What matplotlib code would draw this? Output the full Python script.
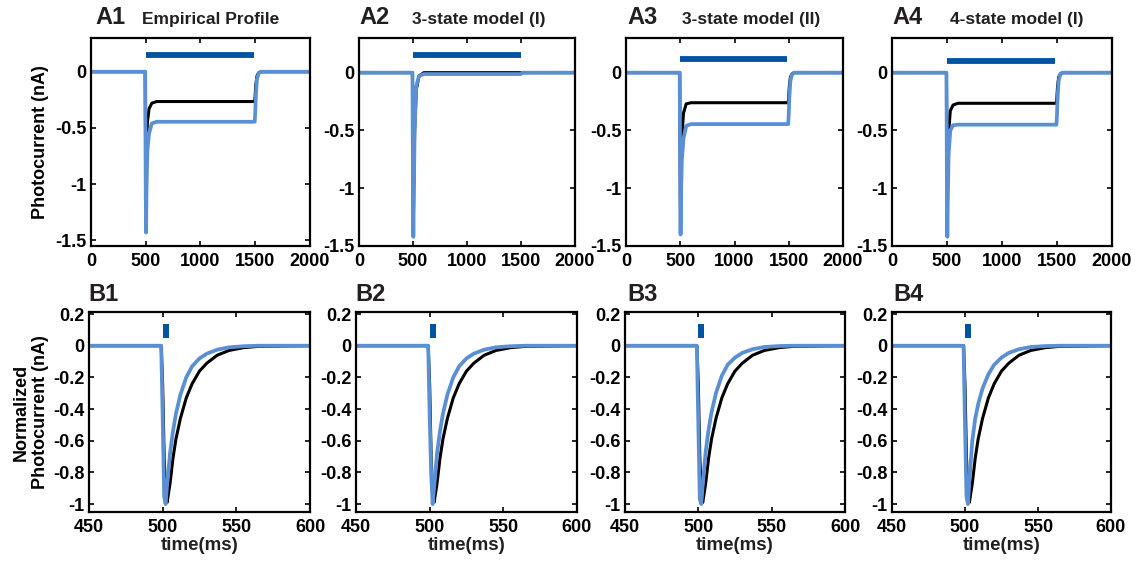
import matplotlib
matplotlib.use("Agg")
import matplotlib.pyplot as plt

plt.rcParams['font.family'] = ['Liberation Sans', 'DejaVu Sans']
plt.rcParams['font.weight'] = 'bold'

# ---- data ----
panel_ids_a = ["A1", "A2", "A3", "A4"]
panel_ids_b = ["B1", "B2", "B3", "B4"]
model_names = ["Empirical Profile", "3-state model (I)", "3-state model (II)", "4-state model (I)"]

# top row: full 1 s light pulse (time in ms)
t_a = [0, 495, 500, 503, 507, 515, 530, 555, 600, 1495, 1500, 1505, 1515, 1530, 1550, 2000]
black_a1 = [0, 0, -0.9, -1.35, -0.75, -0.45, -0.33, -0.28, -0.265, -0.265, -0.2, -0.12, -0.04, -0.01, 0, 0]
blue_a1 = [0, 0, -1.1, -1.43, -1.05, -0.7, -0.55, -0.46, -0.445, -0.445, -0.36, -0.22, -0.07, -0.015, 0, 0]
black_a2 = [0, 0, -0.9, -1.35, -1.0, -0.5, -0.15, -0.03, 0, 0, 0, 0, 0, 0, 0, 0]
blue_a2 = [0, 0, -1.1, -1.42, -1.1, -0.5, -0.12, -0.03, -0.012, -0.012, -0.01, -0.005, 0, 0, 0, 0]
black_a3 = [0, 0, -0.9, -1.35, -0.9, -0.55, -0.35, -0.27, -0.26, -0.26, -0.2, -0.12, -0.04, -0.01, 0, 0]
blue_a3 = [0, 0, -1.1, -1.40, -1.05, -0.75, -0.57, -0.46, -0.445, -0.445, -0.36, -0.22, -0.07, -0.015, 0, 0]
black_a4 = [0, 0, -0.9, -1.35, -0.8, -0.52, -0.33, -0.28, -0.265, -0.265, -0.2, -0.12, -0.04, -0.01, 0, 0]
blue_a4 = [0, 0, -1.1, -1.42, -1.1, -0.7, -0.5, -0.455, -0.45, -0.45, -0.36, -0.22, -0.07, -0.015, 0, 0]
black_a = [black_a1, black_a2, black_a3, black_a4]
blue_a = [blue_a1, blue_a2, blue_a3, blue_a4]
stim_a_start = [505, 500, 500, 500]
stim_a_end = [1490, 1500, 1485, 1480]
stim_a_level = [0.15, 0.15, 0.12, 0.10]
ylim_a_bottom = [-1.55, -1.5, -1.5, -1.5]

# bottom row: short pulse, normalized
t_b = [450, 499, 500, 501, 502, 503, 505, 507, 509, 512, 516, 520, 525, 530, 537, 545, 555, 565, 600]
black_b = [0, 0, -0.25, -0.7, -0.93, -0.99, -0.87, -0.71, -0.59, -0.46, -0.33, -0.24, -0.16, -0.11, -0.06, -0.03, -0.012, -0.004, 0]
blue_b1 = [0, 0, -0.45, -0.95, -1.0, -0.88, -0.68, -0.54, -0.43, -0.31, -0.20, -0.13, -0.08, -0.05, -0.025, -0.01, -0.003, 0, 0]
blue_b2 = [0, 0, -0.45, -0.8, -1.0, -0.9, -0.68, -0.54, -0.43, -0.31, -0.20, -0.13, -0.08, -0.05, -0.025, -0.01, -0.003, 0, 0]
blue_b3 = [0, 0, -0.5, -0.97, -1.0, -0.88, -0.67, -0.53, -0.42, -0.30, -0.19, -0.12, -0.075, -0.045, -0.022, -0.008, -0.002, 0, 0]
blue_b4 = [0, 0, -0.5, -0.95, -1.0, -0.85, -0.6, -0.46, -0.37, -0.27, -0.18, -0.12, -0.075, -0.045, -0.022, -0.008, -0.002, 0, 0]
blue_b = [blue_b1, blue_b2, blue_b3, blue_b4]
stim_b_start = 500
stim_b_end = 504
stim_b_low = 0.05
stim_b_high = 0.14

xticks_a = [0, 500, 1000, 1500, 2000]
yticks_a = [0, -0.5, -1, -1.5]
yticklabels_a = ["0", "-0.5", "-1", "-1.5"]
xticks_b = [450, 500, 550, 600]
yticks_b = [0.2, 0, -0.2, -0.4, -0.6, -0.8, -1]
yticklabels_b = ["0.2", "0", "-0.2", "-0.4", "-0.6", "-0.8", "-1"]

BLUE = "#5b8fd3"
STIM = "#0052a3"
TXT = "#231f20"

W, H = 1139, 562
fig = plt.figure(figsize=(W / 100, H / 100), dpi=100)

def px_axes(left, top, right, bottom):
    return fig.add_axes([left / W, 1 - bottom / H, (right - left) / W, (bottom - top) / H])

def style(ax):
    for s in ax.spines.values():
        s.set_linewidth(1.6)
    ax.tick_params(direction="in", top=True, right=True, length=3.5, width=1.2,
                   labelsize=13, pad=3)
    ax.tick_params(axis="x", pad=5)

lefts_a = [91, 359, 626, 892]
rights_a = [310, 575, 843, 1112]
lefts_b = [89, 356, 625, 892]
rights_b = [310, 577, 845, 1111]

for i in range(4):
    ax = px_axes(lefts_a[i], 38, rights_a[i], 246)
    ax.plot(t_a, black_a[i], color="black", lw=2.2)
    ax.plot(t_a, blue_a[i], color=BLUE, lw=2.7)
    ax.plot([stim_a_start[i], stim_a_end[i]], [stim_a_level[i]] * 2, color=STIM, lw=4.2, solid_capstyle="butt")
    ax.set_xlim(0, 2000)
    ax.set_ylim(ylim_a_bottom[i], 0.3)
    ax.set_xticks(xticks_a)
    ax.set_xticklabels([str(v) for v in xticks_a])
    ax.set_yticks(yticks_a)
    ax.set_yticklabels(yticklabels_a)
    style(ax)
    if i == 0:
        ax.set_ylabel("Photocurrent (nA)", fontsize=13, fontweight="bold", labelpad=5)

    ax = px_axes(lefts_b[i], 312, rights_b[i], 512)
    ax.plot(t_b, black_b, color="black", lw=2.2)
    ax.plot(t_b, blue_b[i], color=BLUE, lw=2.7)
    ax.bar((stim_b_start + stim_b_end) / 2, stim_b_high - stim_b_low, bottom=stim_b_low,
           width=stim_b_end - stim_b_start, color=STIM)
    ax.set_xlim(450, 600)
    ax.set_ylim(-1.05, 0.213)
    ax.set_xticks(xticks_b)
    ax.set_xticklabels([str(v) for v in xticks_b])
    ax.set_yticks(yticks_b)
    ax.set_yticklabels(yticklabels_b)
    style(ax)
    ax.set_xlabel("time(ms)", fontsize=13.5, fontweight="bold", labelpad=1, color=TXT)
    if i == 0:
        ax.set_ylabel("Normalized\nPhotocurrent (nA)", fontsize=13, fontweight="bold",
                      labelpad=3, linespacing=1.2)

# panel letters and titles
letter_x_a = [95, 359, 627, 892]
title_x_a = [142, 412, 682, 950]
letter_x_b = [88, 355, 627, 893]
for i in range(4):
    fig.text(letter_x_a[i] / W, 1 - 24 / H, panel_ids_a[i], fontsize=17, fontweight="bold",
             color=TXT, va="baseline", ha="left")
    fig.text(title_x_a[i] / W, 1 - 24 / H, model_names[i], fontsize=12.5, fontweight="bold",
             color=TXT, va="baseline", ha="left")
    fig.text(letter_x_b[i] / W, 1 - 301 / H, panel_ids_b[i], fontsize=17, fontweight="bold",
             color=TXT, va="baseline", ha="left")

fig.savefig("out.png", dpi=100)
